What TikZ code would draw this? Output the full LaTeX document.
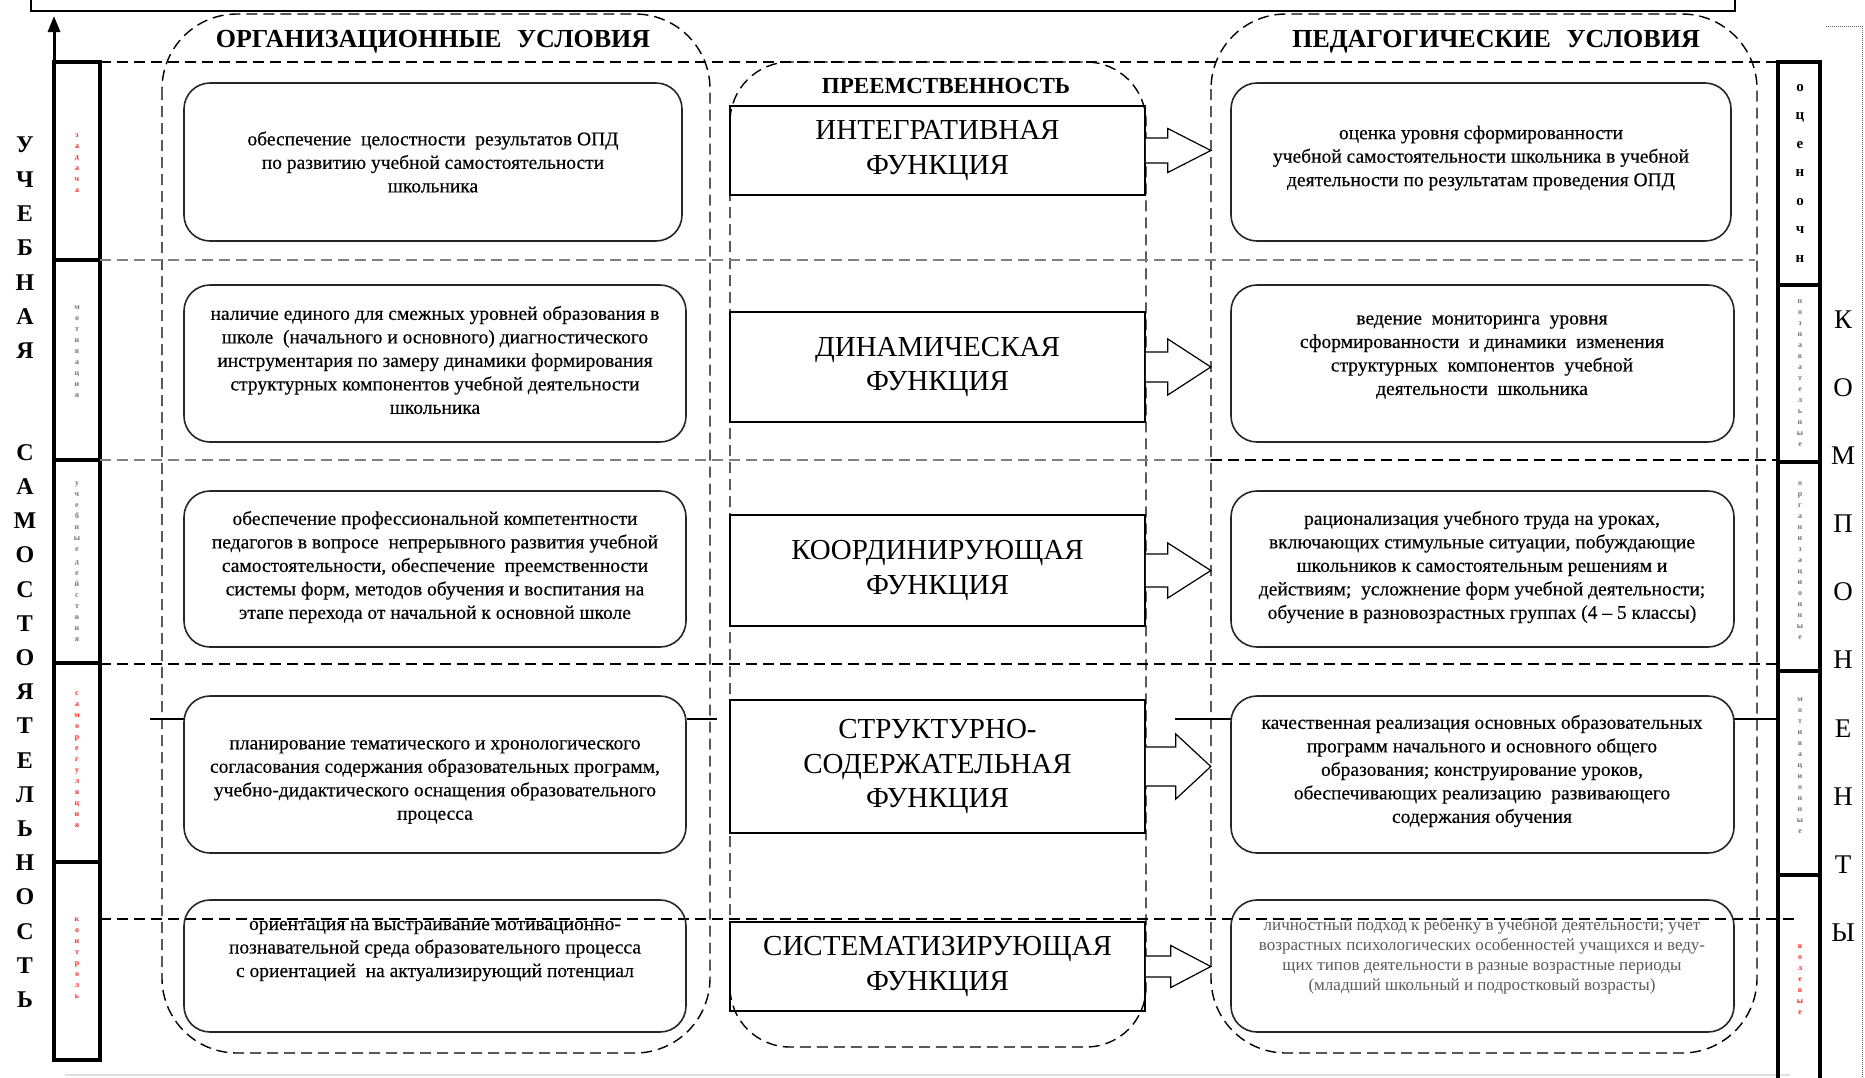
\documentclass[tikz,border=0pt]{standalone}
\usepackage{fontspec}
\setmainfont{Liberation Serif}
\newfontfamily\densefont[FakeBold=0.35]{Liberation Serif}
\usepackage{tikz}
\usetikzlibrary{arrows.meta,calc}

\newcommand{\fsz}[2]{\fontsize{#1}{#2}\selectfont}

\begin{document}
\begin{tikzpicture}[x=1pt,y=-1pt,
    dashframe/.style={draw, dash pattern=on 11pt off 6pt, line width=1.4pt},
    rowline/.style={dash pattern=on 11pt off 6pt, line width=1.4pt},
    greyline/.style={rowline, black!50, line width=2.6pt},
    barline/.style={line width=4.5pt},
    obox/.style={draw=black!85, line width=1.6pt, rounded corners=26pt},
    boxtext/.style={align=center, inner sep=0pt, font=\densefont\fsz{19.5}{23.5}},
    func/.style={draw, line width=1.6pt, minimum width=415, align=center, font=\fsz{29}{34.5}},
    blockarrow/.style={draw, fill=white, line width=1.2pt, line join=miter},
    headtitle/.style={inner sep=0pt, font=\bfseries\fsz{26}{30}},
    bigletters/.style={align=center, inner sep=0pt},
    tinygrey/.style={align=center, inner sep=0pt, text=black!55, font=\bfseries\fsz{8}{11}},
    tinyred/.style={tinygrey, text=red!85},
    stub/.style={line width=1.3pt}]

\useasboundingbox (0,0) rectangle (1865,1077);

\draw[line width=1.8pt] (31,0) -- (31,11) -- (1735,11) -- (1735,0);
\draw[densely dotted, black!60, line width=1pt] (1826,26) -- (1862,26) -- (1862,1077);
\draw[black!12, line width=2pt] (65,1075) -- (1790,1075);

\draw[dashframe, rounded corners=75] (162,14) rectangle (710,1053);
\draw[dashframe, rounded corners=60] (730,62) rectangle (1146,1047);
\draw[dashframe, rounded corners=75] (1211,14) rectangle (1757,1053);

\node[headtitle] (torg) at (433,42) {ОРГАНИЗАЦИОННЫЕ\hspace{0.6em}УСЛОВИЯ};
\node[headtitle] (tped) at (1496,42) {ПЕДАГОГИЧЕСКИЕ\hspace{0.6em}УСЛОВИЯ};
\node[headtitle, font=\bfseries\fsz{23}{26}] (tpre) at (946,86) {ПРЕЕМСТВЕННОСТЬ};

\draw[barline] (54,62) rectangle (100,1060);
\foreach \y in {260,460,663,862}
    \draw[barline] (54,\y) -- (100,\y);
\draw[line width=3pt, -{Triangle[length=16pt,width=12pt]}] (54,1060) -- (54,16);
\draw[barline] (1778,1085) -- (1778,62) -- (1820,62) -- (1820,1085);
\foreach \y in {285,462,671,875}
    \draw[barline] (1778,\y) -- (1820,\y);

\node[bigletters, font=\bfseries\fsz{24}{34.3}] (wstudy) at (25,248) {У\\Ч\\Е\\Б\\Н\\А\\Я};
\node[bigletters, font=\bfseries\fsz{24}{34.2}] (wself) at (25,726) {С\\А\\М\\О\\С\\Т\\О\\Я\\Т\\Е\\Л\\Ь\\Н\\О\\С\\Т\\Ь};
\node[bigletters, font=\fsz{27}{68.1}] (wcomp) at (1843,626) {К\\О\\М\\П\\О\\Н\\Е\\Н\\Т\\Ы};
\node[bigletters, font=\bfseries\fsz{15}{28.5}] (wmark) at (1800,173) {о\\ц\\е\\н\\о\\ч\\н};

\node[tinyred] (l1) at (77,163) {з\\а\\д\\а\\ч\\а};
\node[tinygrey] (l2) at (77,352) {м\\о\\т\\и\\в\\а\\ц\\и\\я};
\node[tinygrey] (l3) at (77,562) {у\\ч\\е\\б\\н\\ы\\е\\[2pt]д\\е\\й\\с\\т\\в\\и\\я};
\node[tinyred] (l4) at (77,760) {с\\а\\м\\о\\р\\е\\г\\у\\л\\я\\ц\\и\\я};
\node[tinyred] (l5) at (77,958) {к\\о\\н\\т\\р\\о\\л\\ь};
\node[tinygrey] (r2) at (1800,373) {п\\о\\з\\н\\а\\в\\а\\т\\е\\л\\ь\\н\\ы\\е};
\node[tinygrey] (r3) at (1800,561) {о\\р\\г\\а\\н\\и\\з\\а\\ц\\и\\о\\н\\н\\ы\\е};
\node[tinygrey] (r4) at (1800,766) {м\\о\\т\\и\\в\\а\\ц\\и\\о\\н\\н\\ы\\е};
\node[tinyred] (r5) at (1800,980) {в\\о\\л\\е\\в\\ы\\е};

\draw[rowline] (100,62) -- (1778,62);
\draw[greyline] (100,260) -- (1755,260);
\draw[greyline] (100,460) -- (1211,460);
\draw[rowline] (1211,460) -- (1778,460);
\draw[rowline] (100,664) -- (1778,664);
\draw[rowline] (100,919) -- (1800,919);

\draw[stub] (150,719) -- (184,719);
\draw[stub] (687,719) -- (717,719);
\draw[stub] (1175,719) -- (1231,719);
\draw[stub] (1734,719) -- (1776,719);

\node[obox, minimum width=498, minimum height=158] (o1) at (433,162) {};
\node[obox, minimum width=502, minimum height=157] (o2) at (435,363.5) {};
\node[obox, minimum width=502, minimum height=156] (o3) at (435,569) {};
\node[obox, minimum width=502, minimum height=157] (o4) at (435,774.5) {};
\node[obox, minimum width=502, minimum height=132] (o5) at (435,966) {};

\node[boxtext] (ot1) at (433,162) {обеспечение\ \ целостности\ \ результатов ОПД\\по развитию учебной самостоятельности\\школьника};
\node[boxtext] (ot2) at (435,360) {наличие единого для смежных уровней образования в\\школе\ \ (начального и основного) диагностического\\инструментария по замеру динамики формирования\\структурных компонентов учебной деятельности\\школьника};
\node[boxtext] (ot3) at (435,567) {обеспечение профессиональной компетентности\\педагогов в вопросе\ \ непрерывного развития учебной\\самостоятельности, обеспечение\ \ преемственности\\системы форм, методов обучения и воспитания на\\этапе перехода от начальной к основной школе};
\node[boxtext] (ot4) at (435,782) {планирование тематического и хронологического\\согласования содержания образовательных программ,\\учебно-дидактического оснащения образовательного\\процесса};
\node[boxtext] (ot5) at (435,951) {ориентация на выстраивание мотивационно-\\познавательной среда образовательного процесса\\с ориентацией\ \ на актуализирующий потенциал};

\node[obox, minimum width=500, minimum height=158] (p1) at (1481,162) {};
\node[obox, minimum width=503, minimum height=157] (p2) at (1482.5,363.5) {};
\node[obox, minimum width=503, minimum height=156] (p3) at (1482.5,569) {};
\node[obox, minimum width=503, minimum height=157] (p4) at (1482.5,774.5) {};
\node[obox, minimum width=503, minimum height=132] (p5) at (1482.5,966) {};

\node[boxtext] (pt1) at (1481,158) {оценка уровня сформированности\\учебной самостоятельности школьника в учебной\\деятельности по результатам проведения ОПД};
\node[boxtext] (pt2) at (1482,357) {ведение\ \ мониторинга\ \ уровня\\сформированности\ \ и динамики\ \ изменения\\структурных\ \ компонентов\ \ учебной\\деятельности\ \ школьника};
\node[boxtext] (pt3) at (1482,567) {рационализация учебного труда на уроках,\\включающих стимульные ситуации, побуждающие\\школьников к самостоятельным решениям и\\действиям;\ \ усложнение форм учебной деятельности;\\обучение в разновозрастных группах (4 – 5 классы)};
\node[boxtext] (pt4) at (1482,771) {качественная реализация основных образовательных\\программ начального и основного общего\\образования; конструирование уроков,\\обеспечивающих реализацию\ \ развивающего\\содержания обучения};
\node[boxtext, text=black!65, font=\fsz{17}{20}] (pt5) at (1482,956) {личностный подход к ребенку в учебной деятельности; учет\\возрастных психологических особенностей учащихся и веду-\\щих типов деятельности в разные возрастные периоды\\(младший школьный и подростковый возрасты)};

\node[func, minimum height=89] (f1) at (937.5,150.5) {ИНТЕГРАТИВНАЯ\\ФУНКЦИЯ};
\node[func, minimum height=110] (f2) at (937.5,367) {ДИНАМИЧЕСКАЯ\\ФУНКЦИЯ};
\node[func, minimum height=111] (f3) at (937.5,570.5) {КООРДИНИРУЮЩАЯ\\ФУНКЦИЯ};
\node[func, minimum height=133] (f4) at (937.5,766.5) {СТРУКТУРНО-\\СОДЕРЖАТЕЛЬНАЯ\\ФУНКЦИЯ};
\node[func, minimum height=89] (f5) at (937.5,966.5) {СИСТЕМАТИЗИРУЮЩАЯ\\ФУНКЦИЯ};

\foreach \f/\s/\h/\b in {f1/12.5/22/22, f2/15/28/22, f3/16.5/27.5/22, f4/19.5/32.5/30, f5/10.5/21/25}
    \draw[blockarrow] ($(\f.east)+(0,-\s)$) -- ($(\f.east)+(\b,-\s)$) -- ($(\f.east)+(\b,-\h)$)
        -- ($(\f.east)+(65,0)$) -- ($(\f.east)+(\b,\h)$) -- ($(\f.east)+(\b,\s)$) -- ($(\f.east)+(0,\s)$);

\end{tikzpicture}
\end{document}
